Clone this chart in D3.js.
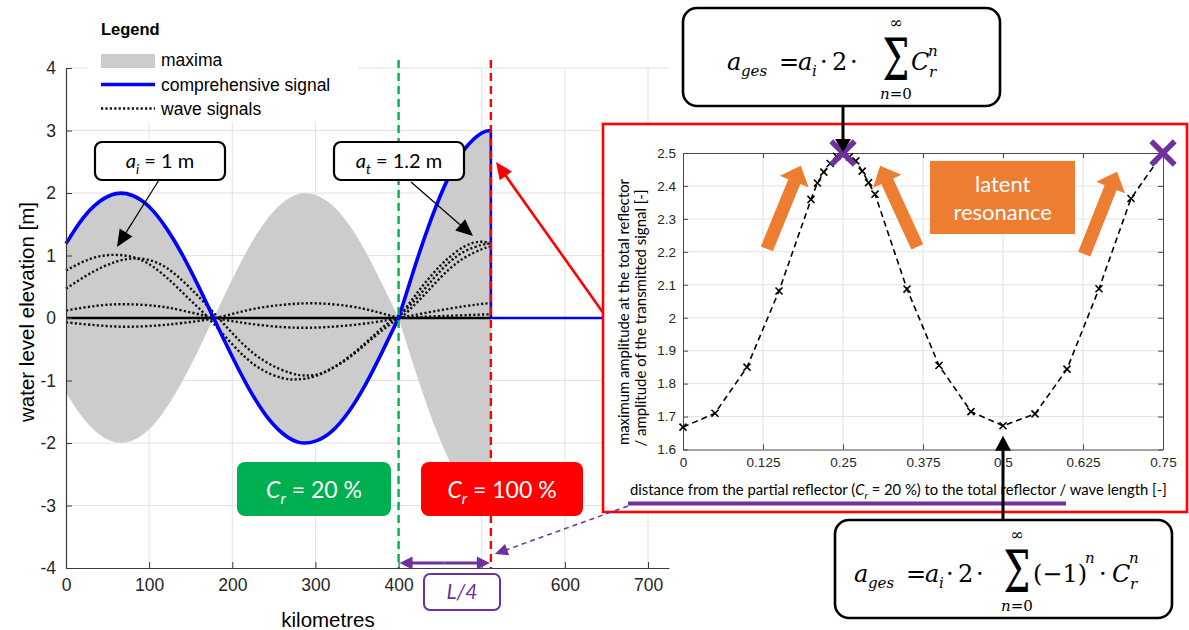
<!DOCTYPE html>
<html>
<head>
<meta charset="utf-8">
<script src="https://cdn.jsdelivr.net/npm/d3@7"></script>
<style>
  html, body { margin: 0; padding: 0; background: #fff; }
  svg { display: block; }
</style>
</head>
<body>
<svg id="fig" width="1189" height="630"></svg>
<script>
// ---------- water level profile along the channel (km, m) ----------
const kmTicks = [0, 100, 200, 300, 400, 500, 600, 700];
const kmTickLabels = ["0", "100", "200", "300", "400", "", "600", "700"];
const elevTicks = [-4, -3, -2, -1, 0, 1, 2, 3, 4];
const elevTickLabels = ["-4", "-3", "-2", "-1", "0", "1", "2", "3", "4"];

// envelope of the water level (maxima), split into lobes at its nodes
const envKm = [0, 20, 40, 60, 80, 100, 120, 140, 160, 177.5, 200, 220, 240, 260, 280, 300, 320, 340, 360, 380, 400, 420, 440, 460, 480, 500, 511];
const envM  = [1.19, 1.59, 1.86, 1.99, 1.96, 1.78, 1.45, 1.01, 0.49, 0, 0.62, 1.13, 1.55, 1.84, 1.99, 1.97, 1.81, 1.50, 1.07, 0.55, 0, 0.84, 1.61, 2.25, 2.71, 2.96, 3.0];

// comprehensive signal: open sea side, basin between the reflectors, beyond the wall
const sigOpenKm = [0, 20, 40, 60, 80, 100, 120, 140, 160, 177.5, 200, 220, 240, 260, 280, 300, 320, 340, 360, 380, 400];
const sigOpenM  = [1.19, 1.59, 1.86, 1.99, 1.96, 1.78, 1.45, 1.01, 0.49, 0, -0.62, -1.13, -1.55, -1.84, -1.99, -1.97, -1.81, -1.50, -1.07, -0.55, 0];
const sigBasinKm = [400, 420, 440, 460, 480, 500, 511];
const sigBasinM  = [0, 0.84, 1.61, 2.25, 2.71, 2.96, 3.0];
const sigTailKm = [511, 511, 725];
const sigTailM  = [3.0, 0, 0];

// individual wave signals
const waveAKm = [0, 30, 60, 90, 120, 150, 170, 200, 230, 260, 280, 300, 330, 360, 380, 400];
const waveAM  = [0.76, 0.95, 1.01, 0.93, 0.66, 0.28, 0.02, -0.42, -0.78, -0.96, -0.98, -0.93, -0.72, -0.40, -0.16, 0.04];
const waveBKm = [0, 30, 60, 90, 120, 150, 180, 210, 240, 270, 290, 310, 340, 370, 400];
const waveBM  = [0.47, 0.72, 0.90, 0.95, 0.81, 0.47, 0.05, -0.38, -0.70, -0.88, -0.92, -0.87, -0.64, -0.31, 0.0];
const waveS1Km = [0, 40, 75, 110, 140, 180, 220, 260, 293, 330, 370, 400];
const waveS1M  = [0.12, 0.20, 0.22, 0.19, 0.12, 0, -0.09, -0.145, -0.155, -0.13, -0.07, 0];
const waveS2Km = [0, 40, 75, 110, 140, 180, 220, 260, 300, 340, 370, 400];
const waveS2M  = [-0.07, -0.12, -0.14, -0.12, -0.08, 0, 0.13, 0.21, 0.235, 0.19, 0.11, 0];
const waveCKm = [400, 420, 440, 460, 480, 497, 511];
const waveCM  = [0, 0.36, 0.69, 0.96, 1.15, 1.22, 1.2];
const waveDKm = [395, 420, 440, 460, 480, 500, 511];
const waveDM  = [-0.05, 0.29, 0.60, 0.88, 1.07, 1.17, 1.19];
const waveEKm = [395, 420, 440, 460, 480, 500, 511];
const waveEM  = [-0.10, 0.22, 0.50, 0.77, 0.97, 1.10, 1.14];
const waveFKm = [400, 440, 480, 511];
const waveFM  = [0, 0.10, 0.19, 0.24];
const waveGKm = [400, 450, 511];
const waveGM  = [0, 0.03, 0.06];
const zeroKm = [0, 511];
const zeroM  = [0, 0];

// reflector positions (km)
const partialReflectorKm = 400;
const totalReflectorKm = 511;

// ---------- amplification vs. reflector distance ----------
const ratioTicks = [0, 0.125, 0.25, 0.375, 0.5, 0.625, 0.75];
const ratioTickLabels = ["0", "0.125", "0.25", "0.375", "0.5", "0.625", "0.75"];
const ampTicks = [1.6, 1.7, 1.8, 1.9, 2.0, 2.1, 2.2, 2.3, 2.4, 2.5];
const ampTickLabels = ["1.6", "1.7", "1.8", "1.9", "2", "2.1", "2.2", "2.3", "2.4", "2.5"];
const distRatio = [0, 0.05, 0.1, 0.15, 0.2, 0.21, 0.22, 0.23, 0.24, 0.25, 0.26, 0.27, 0.28, 0.29, 0.3, 0.35, 0.4, 0.45, 0.5, 0.55, 0.6, 0.65, 0.7, 0.75];
const ampRatio  = [1.668, 1.71, 1.85, 2.081, 2.359, 2.409, 2.442, 2.468, 2.49, 2.5, 2.488, 2.476, 2.445, 2.41, 2.375, 2.087, 1.855, 1.715, 1.672, 1.708, 1.844, 2.088, 2.362, 2.5];
const resonanceRatio = [0.25, 0.75];
const resonanceAmp   = [2.5, 2.5];

// ---------- drawing ----------
const svg = d3.select("#fig");
const AX = "#3a3a3a";
const SANS = "'Liberation Sans', Arial, sans-serif";
const CAL = "Lato, 'Open Sans', sans-serif";
const SERIF = "'DejaVu Serif', serif";
const PURPLE = "#7030A0", ORANGE = "#ED7D31", GREEN = "#00B050", RED = "#FF0000";

const x = d3.scaleLinear().domain([0, 725]).range([66, 668.8]);
const y = d3.scaleLinear().domain([-4, 4]).range([568, 68]);
const pts = (ks, ms) => ks.map((k, i) => [k, ms[i]]);

// rich text with italic / sub / sup parts
function rich(g, px, py, parts, o) {
  const t = g.append("text").attr("x", px).attr("y", py)
    .attr("font-family", o.family).attr("font-size", o.size)
    .attr("fill", o.fill || "#000").attr("text-anchor", o.anchor || "start");
  let shift = 0;
  parts.forEach(p => {
    const target = p.sub ? o.size * 0.28 : p.sup ? -o.size * 0.42 : 0;
    const ts = t.append("tspan").text(p.t).attr("dy", target - shift);
    shift = target;
    if (p.sub || p.sup) ts.attr("font-size", o.size * 0.68);
    if (p.i) ts.attr("font-style", "italic");
  });
  return t;
}
// line with a filled triangular head at `to`
function arrow(g, from, to, o) {
  const dx = to[0] - from[0], dy = to[1] - from[1], len = Math.hypot(dx, dy);
  const ux = dx / len, uy = dy / len, nx = -uy, ny = ux;
  const bx = to[0] - ux * o.head, by = to[1] - uy * o.head;
  g.append("line").attr("x1", from[0]).attr("y1", from[1]).attr("x2", bx + ux * 1).attr("y2", by + uy * 1)
    .attr("stroke", o.color).attr("stroke-width", o.width).attr("stroke-dasharray", o.dash || null);
  g.append("path").attr("d", `M${to[0]},${to[1]}L${bx + nx * o.half},${by + ny * o.half}L${bx - nx * o.half},${by - ny * o.half}Z`)
    .attr("fill", o.color);
}
// block arrow (shaft + head) as one polygon
function blockArrow(g, tail, tip, shaft, headW, headL, color) {
  const dx = tip[0] - tail[0], dy = tip[1] - tail[1], len = Math.hypot(dx, dy);
  const ux = dx / len, uy = dy / len, nx = -uy, ny = ux;
  const bx = tip[0] - ux * headL, by = tip[1] - uy * headL;
  const p = [
    [tail[0] + nx * shaft / 2, tail[1] + ny * shaft / 2],
    [bx + nx * shaft / 2, by + ny * shaft / 2],
    [bx + nx * headW / 2, by + ny * headW / 2],
    tip,
    [bx - nx * headW / 2, by - ny * headW / 2],
    [bx - nx * shaft / 2, by - ny * shaft / 2],
    [tail[0] - nx * shaft / 2, tail[1] - ny * shaft / 2]
  ];
  g.append("path").attr("d", "M" + p.map(q => q.join(",")).join("L") + "Z").attr("fill", color);
}

// ===== left chart =====
const L = svg.append("g");
L.append("g").selectAll("line").data(kmTicks.slice(1)).join("line")
  .attr("x1", d => x(d)).attr("x2", d => x(d)).attr("y1", y(-4)).attr("y2", y(4))
  .attr("stroke", "#e2e2e2").attr("stroke-width", 1);
L.append("g").selectAll("line").data(elevTicks.slice(1)).join("line")
  .attr("x1", x(0)).attr("x2", x(725)).attr("y1", d => y(d)).attr("y2", d => y(d))
  .attr("stroke", "#e2e2e2").attr("stroke-width", 1);

// maxima envelope lobes
const envPts = pts(envKm, envM);
const lobes = [];
let cur = [envPts[0]];
for (let i = 1; i < envPts.length; i++) {
  cur.push(envPts[i]);
  if (envPts[i][1] === 0 && i < envPts.length - 1) { lobes.push(cur); cur = [envPts[i]]; }
}
lobes.push(cur);
const envArea = d3.area().x(d => x(d[0])).y0(d => y(-d[1])).y1(d => y(d[1])).curve(d3.curveNatural);
L.append("g").selectAll("path").data(lobes).join("path").attr("d", envArea).attr("fill", "#cccccc");

const smooth = d3.line().x(d => x(d[0])).y(d => y(d[1])).curve(d3.curveNatural);
const straight = d3.line().x(d => x(d[0])).y(d => y(d[1]));

L.append("path").attr("d", straight(pts(zeroKm, zeroM))).attr("fill", "none").attr("stroke", "#000").attr("stroke-width", 2.6);

const waves = [
  pts(waveAKm, waveAM), pts(waveBKm, waveBM), pts(waveS1Km, waveS1M), pts(waveS2Km, waveS2M),
  pts(waveCKm, waveCM), pts(waveDKm, waveDM), pts(waveEKm, waveEM), pts(waveFKm, waveFM), pts(waveGKm, waveGM)
];
L.append("g").selectAll("path").data(waves).join("path").attr("d", smooth)
  .attr("fill", "none").attr("stroke", "#111").attr("stroke-width", 2.4).attr("stroke-dasharray", "2.2 2.2");

const blue = L.append("g").attr("fill", "none").attr("stroke", "#0000ff").attr("stroke-width", 3.6).attr("stroke-linejoin", "round");
blue.append("path").attr("d", smooth(pts(sigOpenKm, sigOpenM)));
blue.append("path").attr("d", smooth(pts(sigBasinKm, sigBasinM)));
blue.append("path").attr("d", straight(pts(sigTailKm, sigTailM))).attr("stroke-width", 2.6);

// reflector markers
L.append("line").attr("x1", x(partialReflectorKm)).attr("x2", x(partialReflectorKm)).attr("y1", y(4.13)).attr("y2", y(-4))
  .attr("stroke", GREEN).attr("stroke-width", 2.4).attr("stroke-dasharray", "8 5");
L.append("line").attr("x1", x(totalReflectorKm)).attr("x2", x(totalReflectorKm)).attr("y1", y(4.13)).attr("y2", y(-4))
  .attr("stroke", RED).attr("stroke-width", 2.4).attr("stroke-dasharray", "8 5");

// axes
const yAxis = L.append("g").attr("transform", `translate(${x(0)},0)`)
  .call(d3.axisLeft(y).tickValues(elevTicks).tickFormat((d, i) => elevTickLabels[i]).tickSizeInner(-6).tickSizeOuter(0).tickPadding(10));
const xAxis = L.append("g").attr("transform", `translate(0,${y(-4)})`)
  .call(d3.axisBottom(x).tickValues(kmTicks).tickFormat((d, i) => kmTickLabels[i]).tickSizeInner(-6).tickSizeOuter(0).tickPadding(11));
[yAxis, xAxis].forEach(a => {
  a.select(".domain").attr("stroke", AX).attr("stroke-width", 1.2);
  a.selectAll(".tick line").attr("stroke", AX);
  a.selectAll("text").attr("font-family", SANS).attr("font-size", 17.5).attr("fill", "#262626");
});
L.append("text").attr("transform", "translate(34,312) rotate(-90)").attr("text-anchor", "middle")
  .attr("font-family", SANS).attr("font-size", 20.5).attr("fill", "#000").text("water level elevation [m]");
L.append("text").attr("x", 328).attr("y", 627).attr("text-anchor", "middle")
  .attr("font-family", SANS).attr("font-size", 20.5).attr("fill", "#000").text("kilometres");

// legend
const lg = svg.append("g");
lg.append("rect").attr("x", 88).attr("y", 12).attr("width", 270).attr("height", 110).attr("fill", "#fff");
lg.append("text").attr("x", 101).attr("y", 35).attr("font-family", SANS).attr("font-weight", "bold").attr("font-size", 16.5).text("Legend");
lg.append("rect").attr("x", 101).attr("y", 54).attr("width", 54).attr("height", 14).attr("fill", "#cccccc");
lg.append("line").attr("x1", 101).attr("x2", 155).attr("y1", 84.5).attr("y2", 84.5).attr("stroke", "#0000ff").attr("stroke-width", 3.6);
lg.append("line").attr("x1", 101).attr("x2", 155).attr("y1", 108.5).attr("y2", 108.5).attr("stroke", "#111").attr("stroke-width", 2.4).attr("stroke-dasharray", "2.2 2.2");
[["maxima", 66], ["comprehensive signal", 90.5], ["wave signals", 115]].forEach(([t, yy]) =>
  lg.append("text").attr("x", 161).attr("y", yy).attr("font-family", SANS).attr("font-size", 17.5).attr("fill", "#000").text(t));

// amplitude callouts
const an = svg.append("g");
[[95, [{ t: "a", i: 1 }, { t: "i", i: 1, sub: 1 }, { t: " = 1 m" }]], [334, [{ t: "a", i: 1 }, { t: "t", i: 1, sub: 1 }, { t: " = 1.2 m" }]]].forEach(([bx, parts]) => {
  an.append("rect").attr("x", bx).attr("y", 142).attr("width", 130).attr("height", 38).attr("rx", 7)
    .attr("fill", "#fff").attr("stroke", "#000").attr("stroke-width", 2.2);
  rich(an, bx + 65, 168, parts, { family: CAL, size: 20, anchor: "middle" });
});
arrow(an, [159, 180], [117, 247], { color: "#000", width: 1.2, head: 17, half: 7.5 });
arrow(an, [411, 182], [473, 236], { color: "#000", width: 1.2, head: 17, half: 7.5 });

// reflection coefficient boxes
[[237, 154, GREEN, "20 %"], [421, 162, RED, "100 %"]].forEach(([bx, w, c, v]) => {
  an.append("rect").attr("x", bx).attr("y", 462).attr("width", w).attr("height", 54).attr("rx", 8).attr("fill", c);
  rich(an, bx + w / 2, 498, [{ t: "C", i: 1 }, { t: "r", i: 1, sub: 1 }, { t: " = " + v }], { family: CAL, size: 23, anchor: "middle", fill: "#fff" });
});

// quarter wave length marker
arrow(an, [x(455), 563], [x(partialReflectorKm) + 1, 563], { color: PURPLE, width: 3.2, head: 13, half: 6.5 });
arrow(an, [x(455), 563], [x(totalReflectorKm) - 1, 563], { color: PURPLE, width: 3.2, head: 13, half: 6.5 });
an.append("rect").attr("x", 424).attr("y", 574).attr("width", 76).attr("height", 36).attr("rx", 6)
  .attr("fill", "#fff").attr("stroke", PURPLE).attr("stroke-width", 2);
an.append("text").attr("x", 462).attr("y", 599).attr("text-anchor", "middle").attr("font-family", CAL)
  .attr("font-style", "italic").attr("font-size", 21).attr("fill", PURPLE).text("L/4");

// red pointer from the detail panel to the total reflector
arrow(an, [604, 314], [496, 162], { color: RED, width: 2.6, head: 17, half: 7.5 });

// ===== detail panel =====
const R = svg.append("g");
R.append("rect").attr("x", 603).attr("y", 124).attr("width", 584).attr("height", 388)
  .attr("fill", "#fff").attr("stroke", RED).attr("stroke-width", 2.6);
const xi = d3.scaleLinear().domain([0, 0.75]).range([683, 1163]);
const yi = d3.scaleLinear().domain([1.6, 2.5]).range([449.5, 153]);

R.append("g").selectAll("line").data(ratioTicks.slice(1, -1)).join("line")
  .attr("x1", d => xi(d)).attr("x2", d => xi(d)).attr("y1", yi(1.6)).attr("y2", yi(2.5)).attr("stroke", "#e2e2e2");
R.append("g").selectAll("line").data(ampTicks.slice(1, -1)).join("line")
  .attr("x1", xi(0)).attr("x2", xi(0.75)).attr("y1", d => yi(d)).attr("y2", d => yi(d)).attr("stroke", "#e2e2e2");

const axL = R.append("g").attr("transform", `translate(${xi(0)},0)`)
  .call(d3.axisLeft(yi).tickValues(ampTicks).tickFormat((d, i) => ampTickLabels[i]).tickSizeInner(-5).tickSizeOuter(0).tickPadding(7));
const axB = R.append("g").attr("transform", `translate(0,${yi(1.6)})`)
  .call(d3.axisBottom(xi).tickValues(ratioTicks).tickFormat((d, i) => ratioTickLabels[i]).tickSizeInner(-5).tickSizeOuter(0).tickPadding(8));
const axT = R.append("g").attr("transform", `translate(0,${yi(2.5)})`)
  .call(d3.axisTop(xi).tickValues(ratioTicks).tickFormat("").tickSizeInner(-5).tickSizeOuter(0));
const axR = R.append("g").attr("transform", `translate(${xi(0.75)},0)`)
  .call(d3.axisRight(yi).tickValues(ampTicks).tickFormat("").tickSizeInner(-5).tickSizeOuter(0));
[axL, axB, axT, axR].forEach(a => {
  a.select(".domain").attr("stroke", "#4a4a4a").attr("stroke-width", 1);
  a.selectAll(".tick line").attr("stroke", "#4a4a4a");
  a.selectAll("text").attr("font-family", SANS).attr("font-size", 13.5).attr("fill", "#262626");
});

const ampPts = pts(distRatio, ampRatio);
R.append("path").attr("d", d3.line().x(d => xi(d[0])).y(d => yi(d[1]))(ampPts))
  .attr("fill", "none").attr("stroke", "#000").attr("stroke-width", 1.6).attr("stroke-dasharray", "6 4");
R.append("g").selectAll("path").data(ampPts).join("path")
  .attr("transform", d => `translate(${xi(d[0])},${yi(d[1])})`).attr("d", d3.symbol(d3.symbolTimes, 34))
  .attr("fill", "none").attr("stroke", "#000").attr("stroke-width", 1.6);
R.append("g").selectAll("path").data(pts(resonanceRatio, resonanceAmp)).join("path")
  .attr("transform", d => `translate(${xi(d[0])},${yi(d[1])})`).attr("d", d3.symbol(d3.symbolTimes, 360))
  .attr("fill", "none").attr("stroke", PURPLE).attr("stroke-width", 5.5);

// latent resonance hint
const o = R.append("g");
blockArrow(o, [xi(0.131), yi(2.209)], [xi(0.184), yi(2.461)], 13, 31, 17, ORANGE);
blockArrow(o, [xi(0.366), yi(2.215)], [xi(0.308), yi(2.461)], 13, 31, 17, ORANGE);
blockArrow(o, [xi(0.627), yi(2.193)], [xi(0.678), yi(2.443)], 13, 31, 17, ORANGE);
o.append("rect").attr("x", xi(0.386)).attr("y", yi(2.476)).attr("width", xi(0.6125) - xi(0.386)).attr("height", yi(2.254) - yi(2.476)).attr("fill", ORANGE);
o.append("text").attr("x", xi(0.4995)).attr("y", 192).attr("text-anchor", "middle").attr("font-family", CAL).attr("font-size", 22).attr("fill", "#fff").text("latent");
o.append("text").attr("x", xi(0.4995)).attr("y", 220).attr("text-anchor", "middle").attr("font-family", CAL).attr("font-size", 22).attr("fill", "#fff").text("resonance");

// panel axis labels
R.append("text").attr("transform", "translate(629,312) rotate(-90)").attr("text-anchor", "middle")
  .attr("font-family", CAL).attr("font-size", 15).attr("textLength", 266).attr("lengthAdjust", "spacingAndGlyphs")
  .attr("fill", "#000").text("maximum amplitude at the total reflector");
R.append("text").attr("transform", "translate(646,318) rotate(-90)").attr("text-anchor", "middle")
  .attr("font-family", CAL).attr("font-size", 15).attr("textLength", 257).attr("lengthAdjust", "spacingAndGlyphs")
  .attr("fill", "#000").text("/ amplitude of the transmitted signal [-]");
rich(R, 630, 495, [{ t: "distance from the partial reflector (" }, { t: "C", i: 1 }, { t: "r", i: 1, sub: 1 }, { t: " = 20 %) to the total  reflector / wave length [-]" }],
  { family: CAL, size: 14.8 });
R.append("line").attr("x1", 628).attr("x2", 1066).attr("y1", 503.5).attr("y2", 503.5).attr("stroke", PURPLE).attr("stroke-width", 4);

// ===== formula boxes =====
const F = svg.append("g");
function formulaBox(bx, by, w, h) {
  F.append("rect").attr("x", bx).attr("y", by).attr("width", w).attr("height", h).attr("rx", 14)
    .attr("fill", "#fff").attr("stroke", "#000").attr("stroke-width", 2.6);
}
function t(px, py, s, size, italic, anchor) {
  F.append("text").attr("x", px).attr("y", py).attr("font-family", SERIF).attr("font-size", size)
    .attr("font-style", italic ? "italic" : "normal").attr("text-anchor", anchor || "start").attr("fill", "#000").text(s);
}
function sigma(cx, base) {
  F.append("text").attr("transform", `translate(${cx},${base}) scale(1,1.5)`).attr("text-anchor", "middle")
    .attr("font-family", SERIF).attr("font-size", 38).attr("fill", "#000").text("Σ");
}
function sumLimits(cx, top, bottom) {
  t(cx, top, "∞", 16, false, "middle");
  F.append("text").attr("x", cx).attr("y", bottom).attr("text-anchor", "middle").attr("font-family", SERIF).attr("font-size", 15)
    .html('<tspan font-style="italic">n</tspan>=0');
}

// geometric series
formulaBox(683, 8, 317, 98);
t(727, 70, "a", 24, true); t(741, 76, "ges", 15, true);
t(779, 70, "=", 24, false); t(798, 70, "a", 24, true); t(812, 76, "i", 15, true);
t(820, 70, "·", 24, false); t(832, 70, "2", 24, false); t(850, 70, "·", 24, false);
sigma(896, 80); sumLimits(896, 28, 99);
t(911, 70, "C", 24, true); t(929, 77, "r", 15, true); t(928, 56, "n", 15, true);

// alternating series
formulaBox(835, 520, 337, 98);
t(854, 582, "a", 24, true); t(868, 588, "ges", 15, true);
t(906, 582, "=", 24, false); t(925, 582, "a", 24, true); t(939, 588, "i", 15, true);
t(946, 582, "·", 24, false); t(958, 582, "2", 24, false); t(976, 582, "·", 24, false);
sigma(1017, 592); sumLimits(1017, 540, 611);
t(1033, 582, "(−1)", 24, false); t(1085, 563, "n", 15, true);
t(1099, 582, "·", 24, false);
t(1112, 582, "C", 24, true); t(1130, 589, "r", 15, true); t(1129, 563, "n", 15, true);

// pointers from formulas to the extreme values
arrow(F, [xi(0.25), 106], [xi(0.25), yi(2.5) - 1], { color: "#000", width: 3, head: 13, half: 8 });
arrow(F, [xi(0.5), 520], [xi(0.5), yi(1.672) + 10], { color: "#000", width: 3, head: 15, half: 8 });

// dashed pointer from the distance axis to the quarter wave length
arrow(F, [628, 506], [x(totalReflectorKm) + 4, 554], { color: PURPLE, width: 1.5, head: 13, half: 6, dash: "5 4" });
</script>
</body>
</html>
